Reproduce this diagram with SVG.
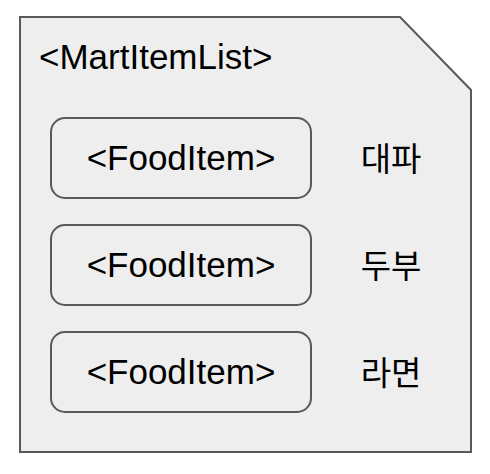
<svg xmlns="http://www.w3.org/2000/svg" width="490" height="474" viewBox="0 0 490 474">
<style>
.t{font-family:"Liberation Sans",Arial,"Noto Sans CJK KR",sans-serif;font-size:35px;fill:#000}
.k{font-family:"Noto Sans CJK KR",sans-serif;font-size:33px;fill:#000}
.box{fill:#eeeeee;stroke:#595959;stroke-width:2}
</style>
<rect width="490" height="474" fill="#ffffff"/>
<g id="MartItemList">
<path class="box" d="M20 17 H400 L471 90 V452 H20 Z"/>
<text class="t" x="39" y="69">&lt;MartItemList&gt;</text>
</g>
<g id="food1">
<rect class="box" x="51" y="118" width="260" height="80" rx="14"/>
<text class="t" x="181" y="170" text-anchor="middle">&lt;FoodItem&gt;</text>
</g>
<g id="food2">
<rect class="box" x="51" y="225" width="260" height="80" rx="14"/>
<text class="t" x="181" y="277" text-anchor="middle">&lt;FoodItem&gt;</text>
</g>
<g id="food3">
<rect class="box" x="51" y="332" width="260" height="80" rx="14"/>
<text class="t" x="181" y="384" text-anchor="middle">&lt;FoodItem&gt;</text>
</g>
<g id="label1"><text class="k" x="391" y="171" text-anchor="middle">대파</text></g>
<g id="label2"><text class="k" x="391" y="278" text-anchor="middle">두부</text></g>
<g id="label3"><text class="k" x="391" y="385" text-anchor="middle">라면</text></g>
<g id="connectors"/>
</svg>
